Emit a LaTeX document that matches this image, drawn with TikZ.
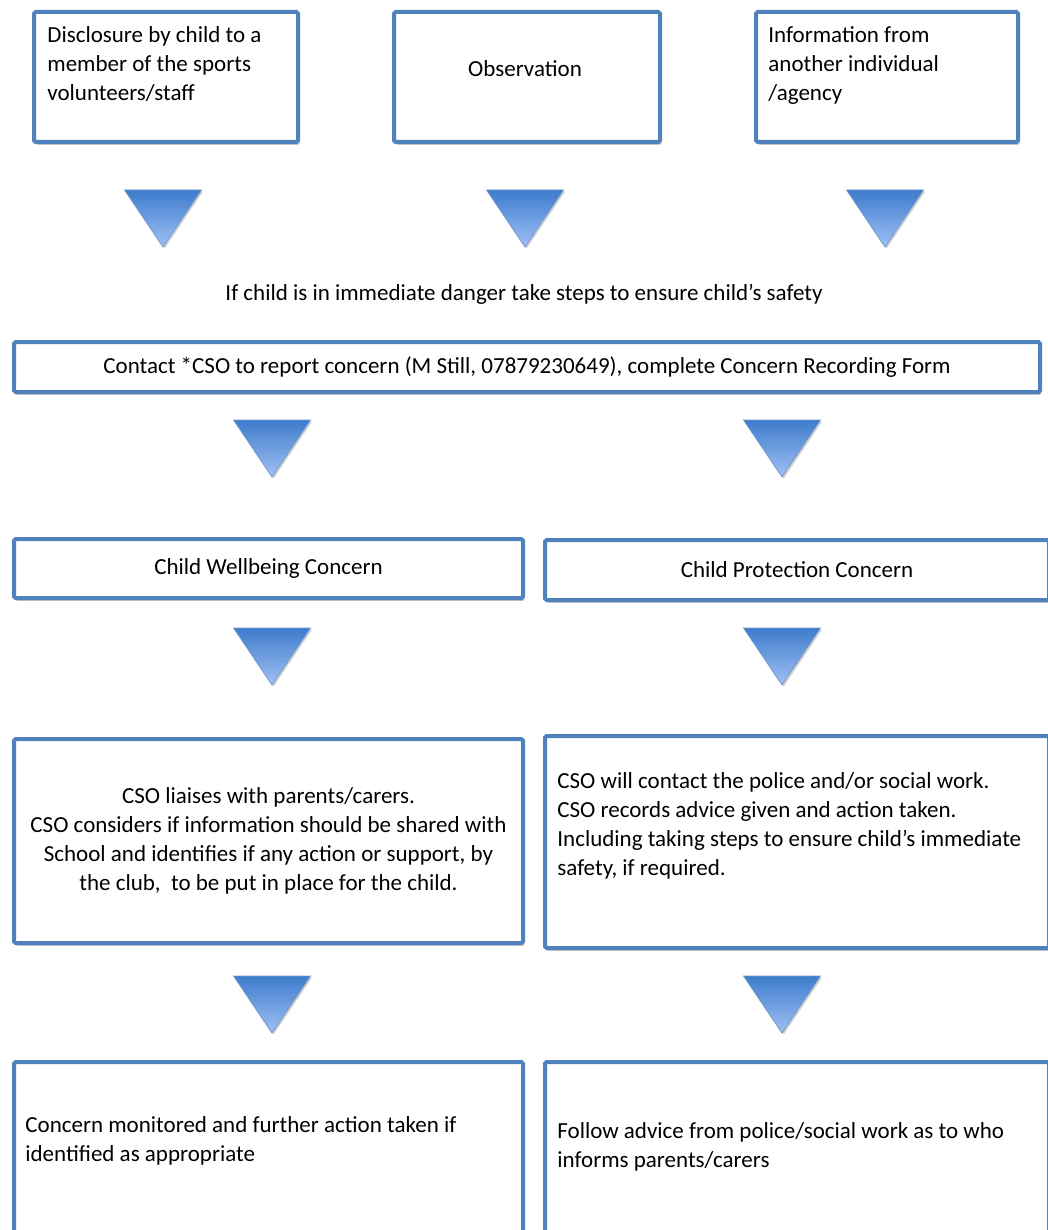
\documentclass[tikz,border=0pt]{standalone}
\usepackage{fontspec}
\setmainfont{Carlito}
\usetikzlibrary{shadows}

\definecolor{boxblue}{RGB}{79,129,189}
\definecolor{tritop}{RGB}{62,124,204}
\definecolor{tribot}{RGB}{160,192,246}

\tikzset{
  flowbox/.style={draw=boxblue, line width=2pt, rounded corners=0.8pt, fill=white,
    inner sep=0pt, anchor=north west,
    drop shadow={shadow xshift=0.8pt, shadow yshift=-1.4pt, fill=black!50, opacity=0.45}},
  flowtext/.style={inner sep=0pt, font=\fontsize{11.5}{14.5}\selectfont},
}
% downward pointing triangle: centre x, top y
\def\downtri(#1,#2){\shade[top color=tritop, bottom color=tribot, draw=boxblue!80, line width=0.4pt,
  drop shadow={shadow xshift=0.8pt, shadow yshift=-0.8pt, fill=black!50, opacity=0.35}]
  (#1-38.5,#2) -- (#1+38.5,#2) -- (#1,#2+57) -- cycle;}

\begin{document}
\begin{tikzpicture}[x=0.5pt, y=-0.5pt]
  \clip (0,0) rectangle (1048,1230);
  \fill[white] (0,0) rectangle (1048,1230);

  %%%%% sources %%%%%
  \node[flowbox, minimum width=132pt, minimum height=65pt] (disc) at (32,10) {};
  \node[flowtext, anchor=base west, align=left] (disc-t) at (47,101)
    {Disclosure by child to a\\member of the sports\\volunteers/staff};
  \node[flowbox, minimum width=133pt, minimum height=65pt] (obs) at (392,10) {};
  \node[flowtext, anchor=base] (obs-t) at (525,77) {Observation};
  \node[flowbox, minimum width=131pt, minimum height=65pt] (info) at (754,10) {};
  \node[flowtext, anchor=base west, align=left] (info-t) at (768,101)
    {Information from\\another individual\\/agency};

  \downtri(163,190)
  \downtri(525,190)
  \downtri(885,190)

  \node[flowtext, anchor=base] (danger) at (524,300)
    {If child is in immediate danger take steps to ensure child’s safety};

  %%%%% contact %%%%%
  \node[flowbox, minimum width=513pt, minimum height=25pt, flowtext] (contact) at (12,340)
    {Contact *CSO to report concern (M Still, 07879230649), complete Concern Recording Form};

  \downtri(272,420)
  \downtri(782,420)

  %%%%% two routes %%%%%
  \node[flowbox, minimum width=254.5pt, minimum height=29.5pt, flowtext] (well) at (12,537)
    {Child Wellbeing Concern};
  \node[flowbox, minimum width=252pt, minimum height=30pt, flowtext] (prot) at (543,538)
    {Child Protection Concern};

  \downtri(272,628)
  \downtri(782,628)

  \node[flowbox, minimum width=254.5pt, minimum height=102pt, flowtext, align=center] (liaise) at (12,737)
    {CSO liaises with parents/carers.\\CSO considers if information should be shared with\\School and identifies if any action or support, by\\the club,\ \ to be put in place for the child.};
  \node[flowbox, minimum width=252pt, minimum height=106pt] (police) at (543,734) {};
  \node[flowtext, anchor=base west, align=left] (police-t) at (557,875)
    {CSO will contact the police and/or social work.\\CSO records advice given and action taken.\\Including taking steps to ensure child’s immediate\\safety, if required.};

  \downtri(272,976)
  \downtri(782,976)

  %%%%% outcomes %%%%%
  \node[flowbox, minimum width=254.5pt, minimum height=100pt] (monitor) at (12,1060) {};
  \node[flowtext, anchor=base west, align=left] (monitor-t) at (25,1161)
    {Concern monitored and further action taken if\\identified as appropriate};
  \node[flowbox, minimum width=252pt, minimum height=100pt] (advice) at (543,1060) {};
  \node[flowtext, anchor=base west, align=left] (advice-t) at (557,1167)
    {Follow advice from police/social work as to who\\informs parents/carers};
\end{tikzpicture}
\end{document}
